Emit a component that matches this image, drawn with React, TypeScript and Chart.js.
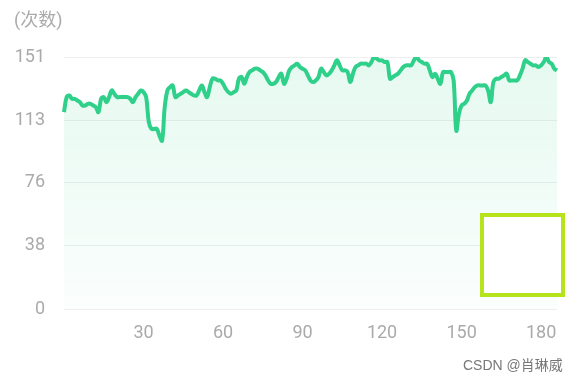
import React, { useEffect, useRef } from "react";
import { Chart, registerables } from "chart.js";

Chart.register(...registerables);

const heartRates: number[] = [
  118, 127, 128, 126, 126, 125, 124, 122, 122, 123,
  123, 122, 121, 118, 126, 127, 124, 127, 131, 129,
  127, 127, 127, 127, 127, 126, 124, 127, 129, 131,
  130, 127, 112, 108, 108, 108, 104, 101, 121, 131,
  133, 134, 127, 128, 129, 130, 131, 130, 129, 128,
  128, 131, 134, 130, 127, 133, 138, 138, 137, 137,
  135, 132, 130, 129, 130, 131, 138, 139, 135, 139,
  142, 143, 144, 144, 143, 142, 140, 137, 135, 135,
  136, 139, 141, 135, 138, 143, 145, 146, 147, 145,
  144, 143, 140, 137, 136, 137, 139, 144, 142, 140,
  141, 143, 146, 149, 146, 143, 143, 142, 136, 141,
  145, 146, 147, 147, 147, 146, 148, 151, 150, 149,
  149, 148, 148, 138, 139, 140, 141, 143, 145, 146,
  146, 146, 149, 151, 149, 148, 147, 147, 143, 139,
  141, 138, 135, 142, 142, 142, 142, 137, 107, 117,
  122, 123, 125, 129, 131, 133, 134, 134, 134, 134,
  131, 124, 136, 138, 138, 139, 140, 141, 137, 137,
  137, 137, 140, 144, 149, 148, 147, 146, 146, 145,
  146, 148, 151, 148, 147, 144, 143,
];

const sampleLabels: number[] = heartRates.map((_, i) => i);
const xTickValues: number[] = [30, 60, 90, 120, 150, 180];
const yTickValues: number[] = [0, 38, 76, 113, 151];
const yUnitLabel = "(次数)";
const watermark = "CSDN @肖琳威";

const FONT = "Roboto, 'Noto Sans', 'Noto Sans CJK SC', sans-serif";

export default function App() {
  const canvasRef = useRef<HTMLCanvasElement | null>(null);

  useEffect(() => {
    if (!canvasRef.current) return;
    const yMax = yTickValues[yTickValues.length - 1];
    const chart = new Chart(canvasRef.current, {
      type: "line",
      data: {
        labels: sampleLabels,
        datasets: [
          {
            data: heartRates,
            borderColor: "#2ed08a",
            borderWidth: 4,
            pointRadius: 0,
            tension: 0.4,
            fill: "start",
            backgroundColor: (ctx: any) => {
              const area = ctx.chart.chartArea;
              if (!area) return "rgba(46,208,138,0.08)";
              const g = ctx.chart.ctx.createLinearGradient(0, area.top, 0, area.bottom);
              g.addColorStop(0, "rgba(46,208,138,0.12)");
              g.addColorStop(1, "rgba(46,208,138,0.02)");
              return g;
            },
          },
        ],
      },
      options: {
        animation: false,
        responsive: false,
        maintainAspectRatio: false,
        layout: { padding: { left: 16, right: 21, top: 57, bottom: 26 } },
        plugins: { legend: { display: false }, tooltip: { enabled: false } },
        scales: {
          x: {
            type: "category",
            offset: false,
            grid: { display: false, drawTicks: false },
            border: { display: false },
            afterFit: (axis: any) => {
              axis.paddingLeft = 0;
              axis.paddingRight = 0;
            },
            ticks: {
              autoSkip: false,
              maxRotation: 0,
              padding: 13,
              color: "#aaaaaa",
              font: { family: FONT, size: 18 },
              callback: (_v: any, i: number) =>
                xTickValues.includes(sampleLabels[i]) ? String(sampleLabels[i]) : null,
            },
          },
          y: {
            min: 0,
            max: yMax,
            afterBuildTicks: (axis: any) => {
              axis.ticks = yTickValues.map((v) => ({ value: v }));
            },
            afterFit: (axis: any) => {
              axis.width = 48;
              axis.paddingTop = 0;
              axis.paddingBottom = 0;
            },
            grid: { color: "#eeeeee", drawTicks: false, lineWidth: 1 },
            border: { display: false },
            ticks: {
              padding: 19,
              color: "#aaaaaa",
              font: { family: FONT, size: 18 },
            },
          },
        },
      },
    });
    return () => chart.destroy();
  }, []);

  return (
    <div style={{ position: "fixed", left: 0, top: 0, width: 578, height: 383, background: "#fff", overflow: "hidden" }}>
      <canvas ref={canvasRef} width={578} height={383} style={{ position: "absolute", left: 0, top: 0, width: 578, height: 383 }} />
      <div style={{ position: "absolute", left: 14, top: 8, fontFamily: FONT, fontSize: 18, color: "#aaaaaa", lineHeight: "24px" }}>
        {yUnitLabel}
      </div>
      <div style={{ position: "absolute", left: 480, top: 213, width: 85, height: 84, boxSizing: "border-box", border: "4px solid #b5e41c", background: "#fff" }} />
      <div style={{ position: "absolute", left: 463, top: 356, fontFamily: "'Liberation Sans', Arial, 'Noto Sans CJK SC', sans-serif", fontSize: 14, color: "#777", lineHeight: "18px", whiteSpace: "nowrap" }}>
        {watermark}
      </div>
    </div>
  );
}
